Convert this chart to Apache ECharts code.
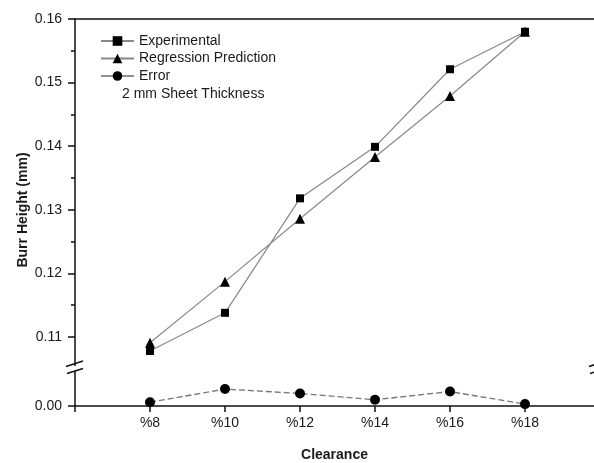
<!DOCTYPE html>
<html>
<head>
<meta charset="utf-8">
<script src="https://cdn.jsdelivr.net/npm/echarts@6/dist/echarts.min.js"></script>
<style>
html,body{margin:0;padding:0;background:#fff;}
#chart{width:594px;height:463px;}
</style>
</head>
<body>
<div id="chart"></div>
<script>
// ---- data ----
const clearance = [8, 10, 12, 14, 16, 18];
const experimental = [0.1078, 0.1138, 0.1318, 0.1399, 0.1521, 0.1580];
const regression = [0.1091, 0.1187, 0.1286, 0.1383, 0.1479, 0.1580];
const errorVals = [0.0006, 0.0027, 0.0020, 0.0010, 0.0023, 0.0003];
const xTickValues = [6, 8, 10, 12, 14, 16, 18];
const upperTicks = [0.11, 0.12, 0.13, 0.14, 0.15, 0.16];
const upperMinorTicks = [0.115, 0.125, 0.135, 0.145, 0.155];
const lowerTicks = [0];
const seriesNames = ['Experimental', 'Regression Prediction', 'Error'];
const noteText = '2 mm Sheet Thickness';
const xTitle = 'Clearance';
const yTitle = 'Burr Height (mm)';

const FONT = '"Liberation Sans", Arial, sans-serif';
const TXT = '#1a1a1a';
const pair = (xs, ys) => xs.map((x, i) => [x, ys[i]]);

const chart = echarts.init(document.getElementById('chart'), null, {renderer: 'canvas'});

const axisLineStyle = {color: '#111', width: 1.5};
const X_MIN = 6, X_MAX = 19.84;

const option = {
  backgroundColor: '#fff',
  animation: false,
  textStyle: {fontFamily: FONT},
  grid: [
    {left: 75, right: 0, top: 19, height: 346.6},
    {left: 75, right: 0, top: 371.5, bottom: 56.5}
  ],
  xAxis: [
    {
      gridIndex: 0, type: 'value', position: 'top', min: X_MIN, max: X_MAX,
      axisLine: {show: true, lineStyle: axisLineStyle},
      axisTick: {show: false}, axisLabel: {show: false}, splitLine: {show: false}
    },
    {
      gridIndex: 1, type: 'value', position: 'bottom', min: X_MIN, max: X_MAX,
      axisLine: {show: true, lineStyle: axisLineStyle, onZero: false},
      axisTick: {show: true, length: 6, customValues: xTickValues, lineStyle: {color: '#111', width: 1.5}},
      axisLabel: {
        show: true, margin: 10, fontSize: 14, color: TXT, fontFamily: FONT,
        customValues: clearance,
        formatter: v => '%' + v
      },
      splitLine: {show: false},
      name: xTitle, nameLocation: 'middle', nameGap: 42,
      nameTextStyle: {fontSize: 14, fontWeight: 'bold', color: TXT, fontFamily: FONT}
    }
  ],
  yAxis: [
    {
      gridIndex: 0, type: 'value', min: 0.1055, max: 0.16,
      axisLine: {show: true, lineStyle: axisLineStyle},
      axisTick: {show: true, length: 7, customValues: upperTicks, lineStyle: {color: '#111', width: 1.5}},
      axisLabel: {show: true, customValues: upperTicks, margin: 13, fontSize: 14, color: TXT, fontFamily: FONT,
        formatter: v => v.toFixed(2)},
      splitLine: {show: false}
    },
    {
      gridIndex: 0, type: 'value', min: 0.1055, max: 0.16, position: 'left',
      axisLine: {show: false},
      axisTick: {show: true, length: 4, customValues: upperMinorTicks, lineStyle: {color: '#111', width: 1.5}},
      axisLabel: {show: false}, splitLine: {show: false}
    },
    {
      gridIndex: 1, type: 'value', min: 0, max: 0.0055,
      axisLine: {show: true, lineStyle: axisLineStyle, onZero: false},
      axisTick: {show: true, length: 7, customValues: lowerTicks, lineStyle: {color: '#111', width: 1.5}},
      axisLabel: {show: true, customValues: lowerTicks, margin: 13, fontSize: 14, color: TXT, fontFamily: FONT,
        formatter: v => v.toFixed(2)},
      splitLine: {show: false}
    }
  ],
  legend: {
    orient: 'vertical', left: 100, top: 34, padding: 0,
    itemWidth: 33, itemHeight: 12, itemGap: 3.5,
    textStyle: {fontSize: 14, lineHeight: 14, color: TXT, fontFamily: FONT},
    data: [
      {name: seriesNames[0]},
      {name: seriesNames[1]},
      {name: seriesNames[2], lineStyle: {type: 'solid', color: '#222', width: 1.2}}
    ]
  },
  series: [
    {
      name: seriesNames[0], type: 'line', xAxisIndex: 0, yAxisIndex: 0,
      data: pair(clearance, experimental),
      symbol: 'rect', symbolSize: 8,
      itemStyle: {color: '#000'},
      lineStyle: {color: '#888', width: 1.2},
      clip: false, z: 3
    },
    {
      name: seriesNames[1], type: 'line', xAxisIndex: 0, yAxisIndex: 0,
      data: pair(clearance, regression),
      symbol: 'triangle', symbolSize: 10,
      itemStyle: {color: '#000'},
      lineStyle: {color: '#888', width: 1.2},
      clip: false, z: 3
    },
    {
      name: seriesNames[2], type: 'line', xAxisIndex: 1, yAxisIndex: 2,
      data: pair(clearance, errorVals),
      symbol: 'circle', symbolSize: 10,
      itemStyle: {color: '#000'},
      lineStyle: {color: '#777', width: 1.4, type: [6, 3]},
      clip: false, z: 3
    }
  ],
  graphic: [
    {type: 'text', left: 122, top: 87, style: {text: noteText, fontSize: 14, fill: TXT, fontFamily: FONT}},
    {type: 'text', x: 23, y: 210, rotation: Math.PI / 2,
      style: {text: yTitle, fontSize: 14, fontWeight: 'bold', fill: TXT, fontFamily: FONT, align: 'center', verticalAlign: 'middle'}},
    // axis break marks
    {type: 'line', shape: {x1: 66, y1: 366.5, x2: 83, y2: 361}, style: {stroke: '#111', lineWidth: 1.5}},
    {type: 'line', shape: {x1: 67, y1: 373.5, x2: 83, y2: 368.5}, style: {stroke: '#111', lineWidth: 1.5}},
    {type: 'line', shape: {x1: 589, y1: 366.5, x2: 606, y2: 361}, style: {stroke: '#111', lineWidth: 1.5}},
    {type: 'line', shape: {x1: 590, y1: 373.5, x2: 606, y2: 368.5}, style: {stroke: '#111', lineWidth: 1.5}}
  ]
};

chart.setOption(option);
</script>
</body>
</html>
